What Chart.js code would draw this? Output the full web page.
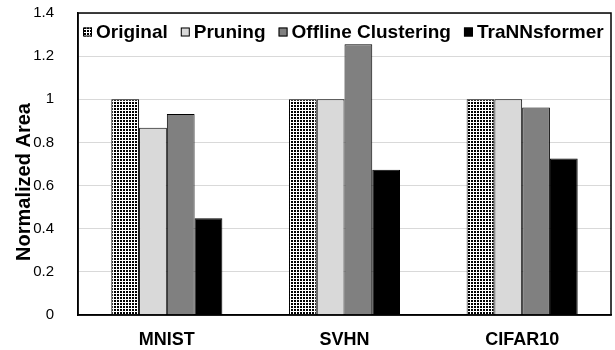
<!DOCTYPE html>
<html>
<head>
<meta charset="utf-8">
<script src="https://cdn.jsdelivr.net/npm/chart.js@4.4.1/dist/chart.umd.min.js"></script>
<style>
  html, body { margin: 0; padding: 0; background: #fff; }
  #wrap { width: 615px; height: 350px; position: relative; }
</style>
</head>
<body>
<div id="wrap"><canvas id="c" width="615" height="350"></canvas></div>
<script>
const categories = ['MNIST', 'SVHN', 'CIFAR10'];
const seriesNames = ['Original', 'Pruning', 'Offline Clustering', 'TraNNsformer'];
const original = [1.0, 1.0, 1.0];
const pruning = [0.868, 1.0, 1.0];
const offlineClustering = [0.932, 1.255, 0.962];
const trannsformer = [0.448, 0.673, 0.725];
const yTickLabels = ['0', '0.2', '0.4', '0.6', '0.8', '1', '1.2', '1.4'];
const yAxisTitle = 'Normalized Area';

const FONT = '"Liberation Sans", Arial, sans-serif';

function makePattern() {
  const p = document.createElement('canvas');
  p.width = 3; p.height = 3;
  const g = p.getContext('2d');
  g.fillStyle = '#ffffff';
  g.fillRect(0, 0, 3, 3);
  g.fillStyle = '#000000';
  g.fillRect(0, 0, 2, 2);
  return document.getElementById('c').getContext('2d').createPattern(p, 'repeat');
}
const pattern = makePattern();

const fills = [pattern, '#d9d9d9', '#808080', '#000000'];
const values = [original, pruning, offlineClustering, trannsformer];

const frameAndLegend = {
  id: 'frameAndLegend',
  afterDraw(chart) {
    const ctx = chart.ctx;
    const a = chart.chartArea;
    ctx.save();
    // plot frame
    ctx.strokeStyle = '#000';
    ctx.lineWidth = 1.5;
    ctx.strokeRect(a.left, a.top, a.right - a.left, a.bottom - a.top);
    // legend
    ctx.font = 'bold 19px ' + FONT;
    ctx.textBaseline = 'middle';
    let x = a.left + 5;
    const cy = 32;
    const box = 9;
    chart.data.datasets.forEach((ds, i) => {
      ctx.fillStyle = ds.backgroundColor;
      ctx.fillRect(x, cy - box / 2, box, box);
      ctx.lineWidth = 1;
      ctx.strokeStyle = '#000';
      ctx.strokeRect(x + 0.5, cy - box / 2 + 0.5, box - 1, box - 1);
      x += box + 4;
      ctx.fillStyle = '#000';
      ctx.fillText(ds.label, x, cy + 1);
      x += ctx.measureText(ds.label).width + 13;
    });
    // y axis title
    ctx.translate(24, 182);
    ctx.rotate(-Math.PI / 2);
    ctx.textAlign = 'center';
    ctx.textBaseline = 'middle';
    ctx.font = 'bold 20px ' + FONT;
    ctx.fillStyle = '#000';
    ctx.fillText(yAxisTitle, 0, 0);
    ctx.restore();
  }
};

new Chart(document.getElementById('c'), {
  type: 'bar',
  data: {
    labels: categories,
    datasets: seriesNames.map((name, i) => ({
      label: name,
      data: values[i],
      backgroundColor: fills[i],
      borderColor: '#000',
      borderWidth: 1,
      categoryPercentage: 0.625,
      barPercentage: 1.0
    }))
  },
  options: {
    responsive: false,
    animation: false,
    devicePixelRatio: 1,
    layout: { padding: { left: 0, right: 4, top: 13, bottom: 0 } },
    plugins: { legend: { display: false }, tooltip: { enabled: false } },
    scales: {
      x: {
        grid: { display: false },
        border: { color: '#000', width: 1.5 },
        ticks: { color: '#000', font: { family: FONT, size: 18, weight: 'bold' }, padding: 6 },
        afterFit(s) { s.height = 35; s.paddingLeft = 0; s.paddingRight = 0; }
      },
      y: {
        min: 0, max: 1.4,
        ticks: {
          stepSize: 0.2,
          color: '#000',
          font: { family: FONT, size: 15 },
          padding: 24,
          callback: (v, i) => yTickLabels[i]
        },
        grid: { color: '#d9d9d9', lineWidth: 1, drawTicks: false },
        border: { color: '#000', width: 1.5 },
        afterFit(s) { s.width = 78; s.paddingTop = 0; s.paddingBottom = 0; }
      }
    }
  },
  plugins: [frameAndLegend]
});
</script>
</body>
</html>
